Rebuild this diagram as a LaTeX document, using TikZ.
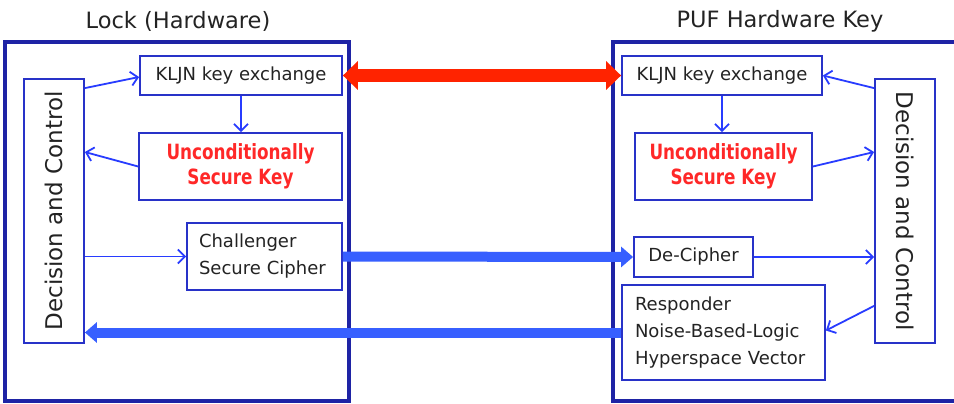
\documentclass[tikz,border=0pt]{standalone}
\usepackage{graphicx}
\usepackage{fontspec}
\setmainfont{DejaVu Sans}
\newfontfamily\redbold[FakeStretch=0.8]{DejaVu Sans Bold}
\usetikzlibrary{arrows.meta,calc}
\definecolor{outerblue}{RGB}{30,35,165}
\definecolor{boxblue}{RGB}{40,50,200}
\definecolor{arrblue}{RGB}{40,60,255}
\definecolor{thickblue}{RGB}{55,95,255}
\definecolor{keyred}{RGB}{255,35,0}
\definecolor{redtxt}{RGB}{255,40,40}
\definecolor{txt}{RGB}{35,35,35}
\begin{document}
\begin{tikzpicture}[x=1pt,y=-1pt,
  outerbox/.style={draw=outerblue,line width=3.5pt},
  ibox/.style={draw=boxblue,line width=1.8pt,fill=white,inner sep=0pt,text=txt,
    font=\fontsize{18}{27}\selectfont},
  title/.style={text=txt,font=\fontsize{22.5}{27}\selectfont},
  thinarr/.style={draw=arrblue,line width=1.8pt,-{Straight Barb[length=7pt,width=14pt]}},
  fatarr/.style={draw=thickblue,line width=10pt,-{Triangle[length=12pt,width=20pt]}},
  redarr/.style={draw=keyred,line width=13pt,{Triangle[length=15pt,width=28pt]}-{Triangle[length=15pt,width=28pt]}},
  redkey/.style={text=redtxt,font=\redbold\fontsize{21}{25}\selectfont,align=center}
]
\useasboundingbox (0,0) rectangle (954,404);
\clip (0,0) rectangle (954,404);
\fill[white] (0,0) rectangle (954,404);

% outer boxes
\draw[outerbox] (5,42) rectangle (349,401);
\draw[outerbox] (613,42) rectangle (985,401);

% titles
\node[title] (tL) at (178,21) {Lock (Hardware)};
\node[title] (tR) at (780,21) {PUF Hardware Key};

% left side
\node[ibox,minimum width=60pt,minimum height=264pt,font=\fontsize{23}{27}\selectfont] (dL) at (54,211)
  {\rotatebox{90}{Decision and Control}};
\node[ibox,minimum width=202pt,minimum height=39pt] (k1) at (241,75.5) {KLJN key exchange};
\node[ibox,minimum width=203pt,minimum height=67pt,redkey] (u1) at (240.5,166.5)
  {Unconditionally\\Secure Key};
\node[ibox,text width=131pt,inner xsep=12pt,minimum height=67pt,align=left] (c1) at (264.5,256.5)
  {Challenger\\Secure Cipher};

% right side
\node[ibox,minimum width=60pt,minimum height=264pt,font=\fontsize{23}{27}\selectfont] (dR) at (905,211)
  {\rotatebox{-90}{Decision and Control}};
\node[ibox,minimum width=200pt,minimum height=39pt] (k2) at (722,75.5) {KLJN key exchange};
\node[ibox,minimum width=177pt,minimum height=67pt,redkey] (u2) at (723.5,166.5)
  {Unconditionally\\Secure Key};
\node[ibox,minimum width=119pt,minimum height=40pt] (dc) at (693.5,257) {De-Cipher};
\node[ibox,text width=177pt,inner xsep=13pt,minimum height=95pt,align=left] (r) at (723.5,332.5)
  {Responder\\Noise-Based-Logic\\Hyperspace Vector};

% left thin arrows
\draw[thinarr] ($(dL.north east)+(0,10)$) -- ($(k1.west)+(0,1.5)$);
\draw[thinarr] (k1.south) -- (k1.south |- u1.north);
\draw[thinarr] (u1.west) -- ($(dL.east)+(0,-59)$);
\draw[thinarr] (dL.east |- c1.west) -- (c1.west);

% right thin arrows
\draw[thinarr] ($(dR.north west)+(0,10)$) -- (k2.east);
\draw[thinarr] (k2.south) -- (k2.south |- u2.north);
\draw[thinarr] (u2.east) -- ($(dR.west)+(0,-59)$);
\draw[thinarr] (dc.east) -- (dc.east -| dR.west);
\draw[thinarr] ($(dR.south west)+(0,-38)$) -- ($(r.east)+(0,-2)$);

% thick arrows
\draw[fatarr] (c1.east) -- (dc.west);
\draw[fatarr] (r.west) -- (dL.east |- r.west);
\draw[redarr] (k1.east) -- (k2.west);
\end{tikzpicture}
\end{document}
